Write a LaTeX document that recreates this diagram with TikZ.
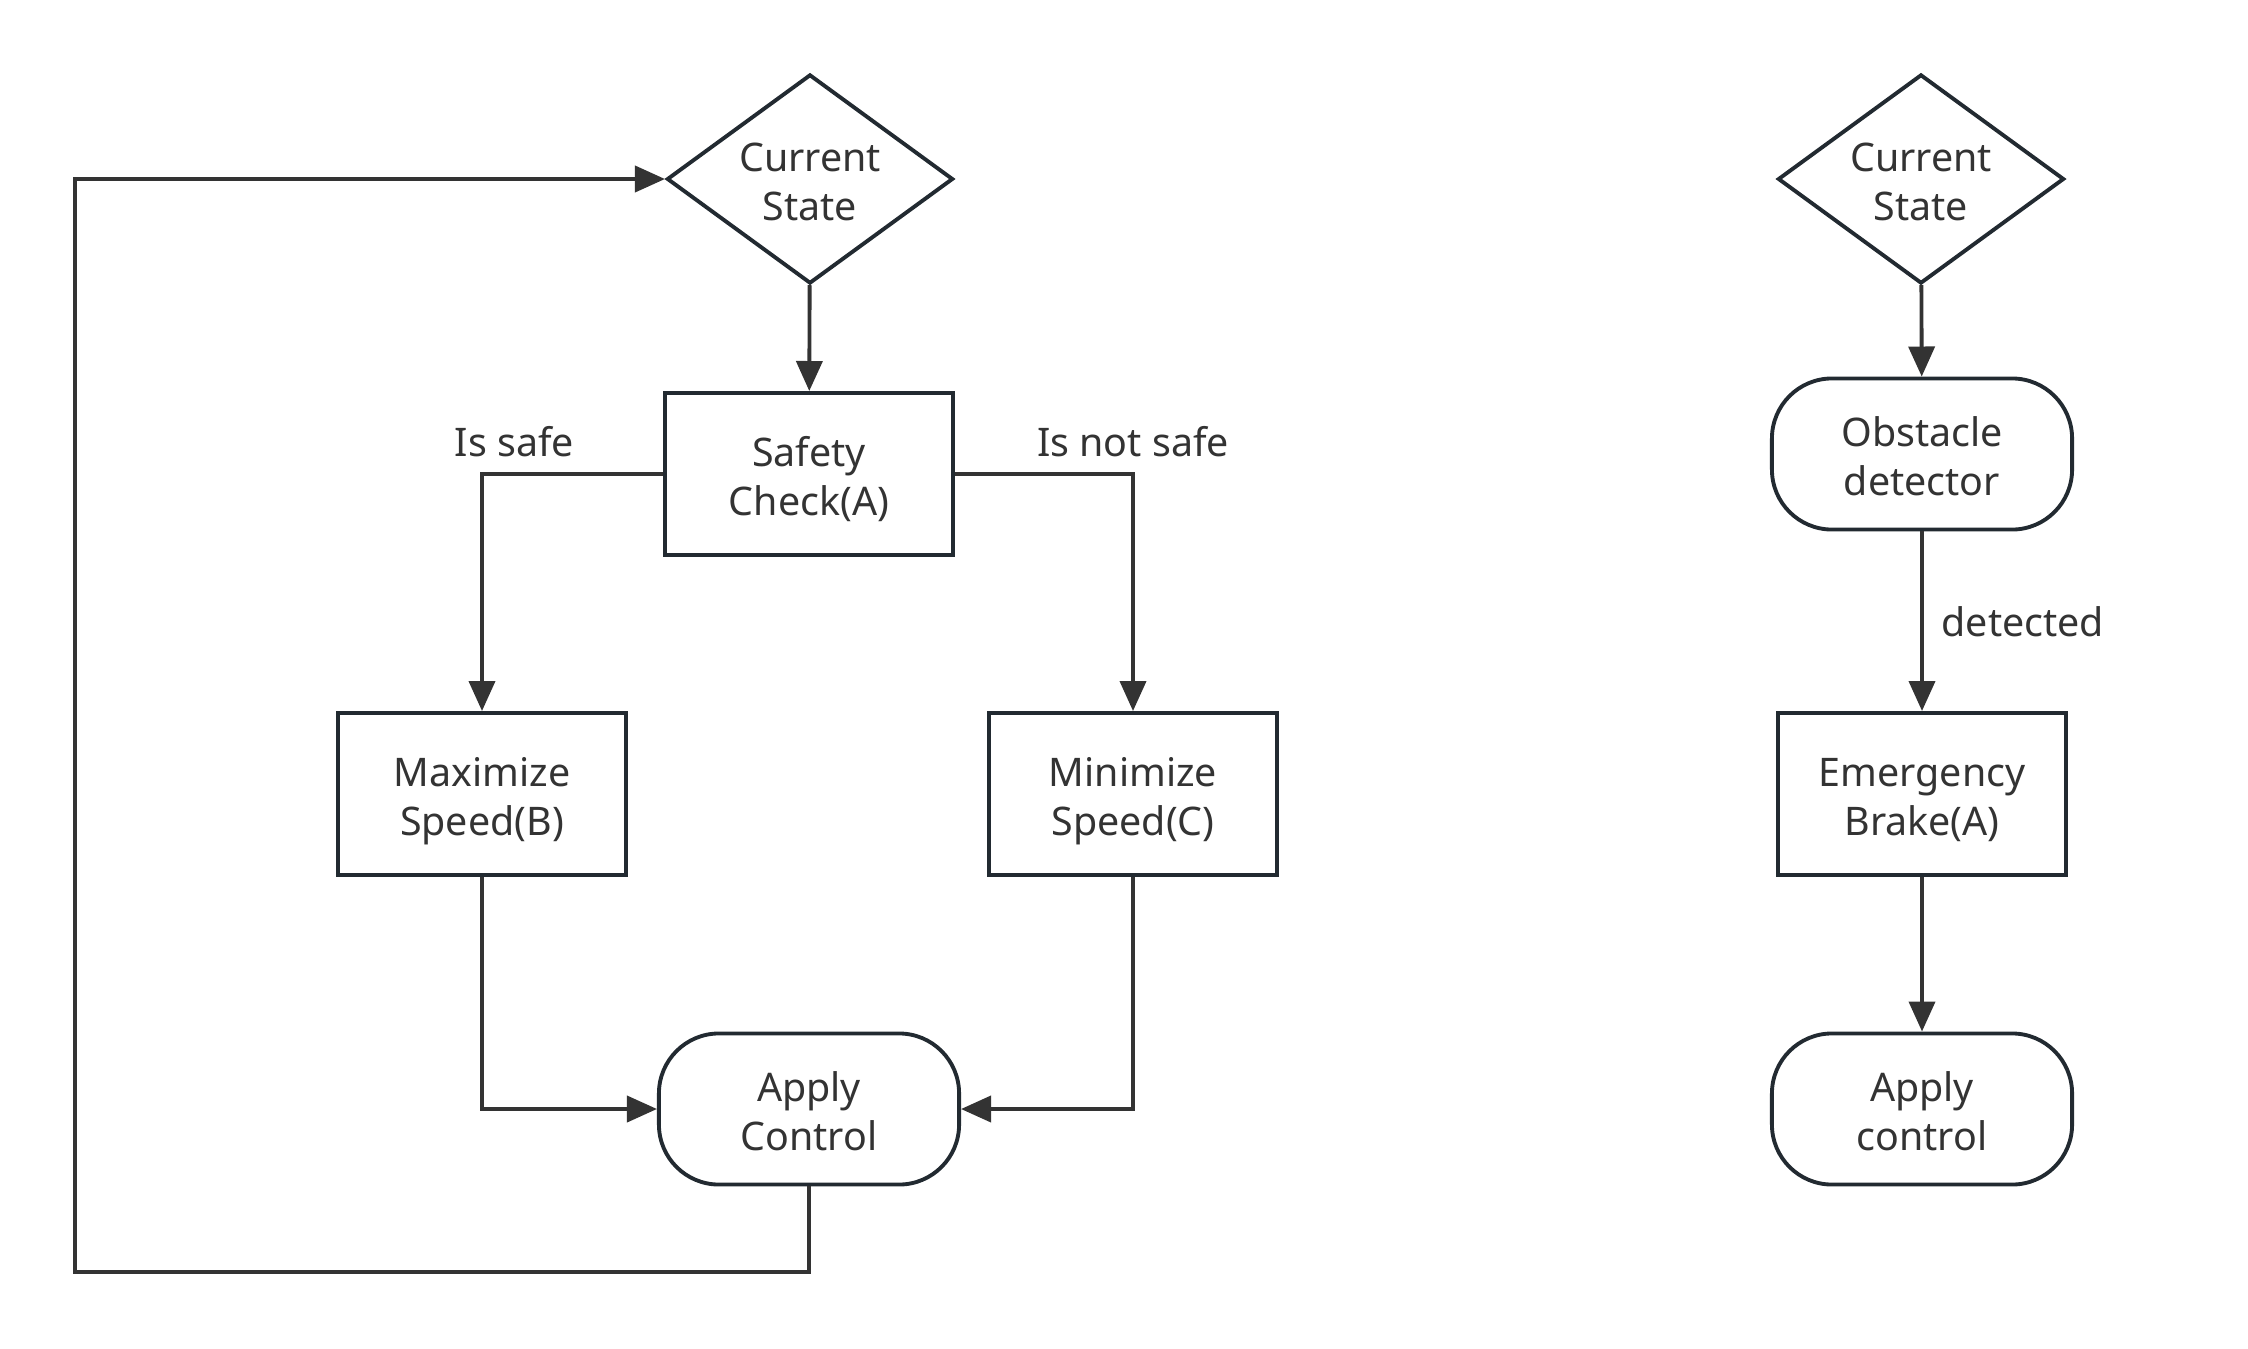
\documentclass[tikz,border=0pt]{standalone}
\usepackage{fontspec}
\setmainfont{Noto Sans}
\usetikzlibrary{arrows.meta,shapes.geometric}
\definecolor{inkgray}{HTML}{333333}
\definecolor{edgegray}{HTML}{222A31}

\begin{document}
\begin{tikzpicture}[x=0.01cm, y=-0.01cm, >={Triangle[length=3mm,width=2.6mm]},
  every node/.style={text=inkgray, font=\fontsize{11.2pt}{13.8pt}\selectfont, align=center},
  box/.style={draw=edgegray, line width=1.1pt, text height=26.5pt, text depth=3pt},
  decision/.style={box, diamond, aspect=1.37, inner sep=0pt, minimum width=2.86cm, minimum height=2.09cm},
  process/.style={box, rectangle, minimum width=2.88cm, minimum height=1.62cm},
  terminal/.style={box, rectangle, rounded corners=0.6cm, minimum width=3cm, minimum height=1.51cm},
  flow/.style={->, draw=inkgray, line width=1.1pt}]
\useasboundingbox (0,0) rectangle (2248,1348);

% left loop
\node[decision] (state1) at (810,179) {Current\\State};
\node[process] (check) at (809,474) {Safety\\Check(A)};
\node[process] (maxspeed) at (482,794) {Maximize\\Speed(B)};
\node[process] (minspeed) at (1133,794) {Minimize\\Speed(C)};
\node[terminal] (apply1) at (809,1109) {Apply\\Control};
\coordinate (back) at (75,1272);

\draw[flow] (state1) -- (check);
\draw[flow] (check.west) -| node[pos=0.41, above=1pt] {Is safe} (maxspeed);
\draw[flow] (check.east) -| node[pos=0.5, above=1pt] {Is not safe} (minspeed);
\draw[flow] (maxspeed.south) |- (apply1.west);
\draw[flow] (minspeed.south) |- (apply1.east);
\draw[flow] (apply1.south) |- (back) |- (state1.west);

% right chain
\node[decision] (state2) at (1921,179) {Current\\State};
\node[terminal] (detector) at (1922,454) {Obstacle\\detector};
\node[process] (brake) at (1922,794) {Emergency\\Brake(A)};
\node[terminal] (apply2) at (1922,1109) {Apply\\control};

\draw[flow] (state2) -- (detector);
\draw[flow] (detector) -- node[right=0.06cm] {detected} (brake);
\draw[flow] (brake) -- (apply2);
\end{tikzpicture}
\end{document}
